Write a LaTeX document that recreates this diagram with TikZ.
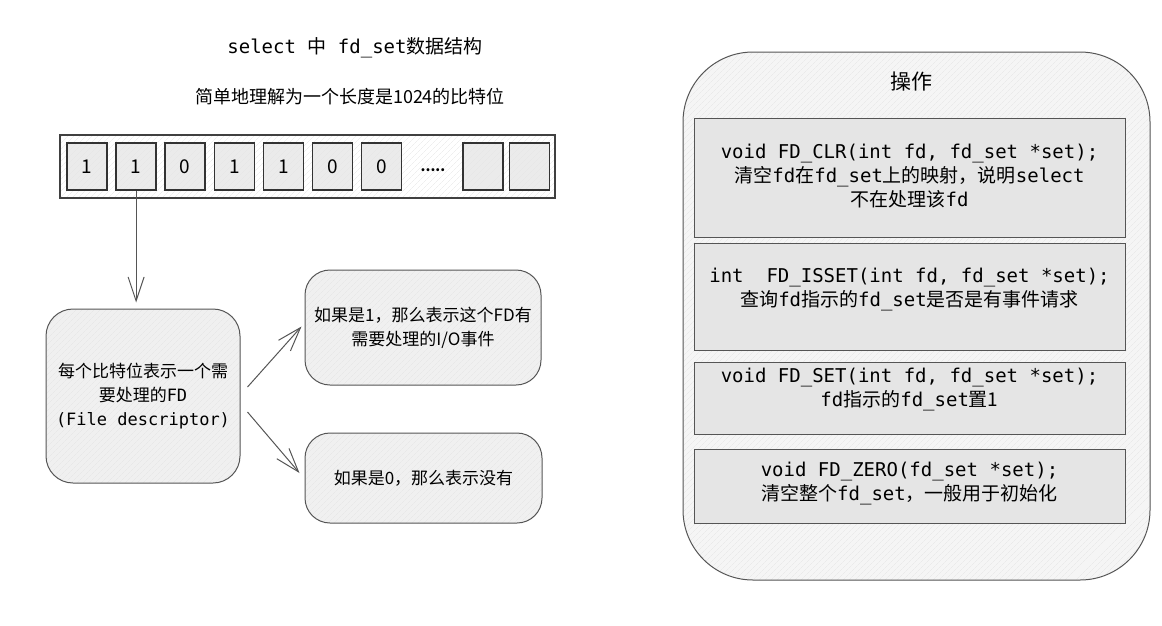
\documentclass[tikz,border=0pt]{standalone}
\usepackage{fontspec}
\setmainfont{Noto Sans CJK SC}
\setmonofont{DejaVu Sans Mono}
\usetikzlibrary{positioning, arrows.meta, patterns.meta}
\definecolor{linegray}{HTML}{555555}
\newcommand{\mono}[1]{{\ttfamily #1}}
\tikzstyle{hatch} = [pattern={Lines[angle=45,distance=4pt,line width=0.4pt]}, pattern color=black!10]
\tikzstyle{cell} = [draw=black!80, line width=1.6pt, preaction={fill=black!8}, hatch,
    minimum width=40pt, minimum height=47pt, inner sep=0pt,
    font=\fontsize{19}{20}\selectfont]
\tikzstyle{roundbox} = [draw=linegray, line width=1pt, preaction={fill=black!6}, hatch,
    rounded corners=25pt, align=center, font=\fontsize{17}{24}\selectfont]
\tikzstyle{opbox} = [draw=linegray, line width=1pt, preaction={fill=black!10}, hatch,
    minimum width=431pt, inner sep=0pt]
\tikzstyle{optext} = [align=center, font=\fontsize{19}{24}\selectfont]
\tikzstyle{arr} = [draw=linegray, line width=1pt, -{Straight Barb[length=24pt,width=16pt]}]

\begin{document}
\begin{tikzpicture}[x=1pt, y=-1pt, node distance=7.5pt]
        \useasboundingbox (0,0) rectangle (1162,625);

        % left half: the bit array
        \node[font=\fontsize{19}{24}\selectfont] (title) at (355,48)
            {\mono{select }中\mono{ fd\_set}数据结构};
        \node[font=\fontsize{18}{24}\selectfont] (sub) at (350,97)
            {简单地理解为一个长度是1024的比特位};

        \node[draw=black!75, line width=1.8pt, preaction={fill=white}, hatch,
            minimum width=495pt, minimum height=63pt](bits) at (307.5,166.5){};

        \node[cell](c1) at (87,166.5){1};
        \node[cell, right=of c1](c2){1};
        \node[cell, right=of c2](c3){0};
        \node[cell, right=of c3](c4){1};
        \node[cell, right=of c4](c5){1};
        \node[cell, right=of c5](c6){0};
        \node[cell, right=of c6](c7){0};
        \node[font=\bfseries\fontsize{14}{16}\selectfont](dots) at (433,170){.....};
        \node[cell](c8) at (483,166.5){};
        \node[cell, right=5pt of c8](c9){};

        \node[roundbox, minimum width=194pt, minimum height=174pt,
            rounded corners=27pt](desc) at (143,396)
            {每个比特位表示一个需\\要处理的\mono{FD}\\\mono{(File descriptor)}};
        \node[roundbox, minimum width=236pt, minimum height=115pt](yes) at (423,327.5)
            {如果是1，那么表示这个FD有\\需要处理的I/O事件};
        \node[roundbox, minimum width=237pt, minimum height=90pt](no) at (423.5,478)
            {如果是0，那么表示没有};

        \draw[arr, shorten >=6pt] (c2.south) -- (c2.south |- desc.north);
        \draw[arr] ([shift={(7,-9)}]desc.east) -- ([shift={(-3,-1)}]yes.west);
        \draw[arr] ([shift={(7,16)}]desc.east) -- ([shift={(-5,-5)}]no.west);

        % right half: the operations
        \node[draw=linegray, line width=1pt, preaction={fill=black!4}, hatch, rounded corners=70pt,
            minimum width=467pt, minimum height=528pt](ops) at (916.5,316){};
        \node[font=\fontsize{21}{24}\selectfont](opstitle) at (911,82){操作};

        \node[opbox, minimum height=119pt, label={[optext, yshift=1pt]center:{%
            \mono{void FD\_CLR(int fd, fd\_set *set);}\\
            清空\mono{fd}在\mono{fd\_set}上的映射，说明\mono{select}\\
            不在处理该\mono{fd}}}](op1) at (909.5,177.5){};
        \node[opbox, minimum height=107pt, label={[optext, yshift=6.5pt]center:{%
            \mono{int\ \ FD\_ISSET(int fd, fd\_set *set);}\\
            查询\mono{fd}指示的\mono{fd\_set}是否是有事件请求}}](op2) at (909.5,296.5){};
        \node[opbox, minimum height=72pt, label={[optext, yshift=8pt]center:{%
            \mono{void FD\_SET(int fd, fd\_set *set);}\\
            \mono{fd}指示的\mono{fd\_set}置1}}](op3) at (909.5,398){};
        \node[opbox, minimum height=74pt, label={[optext, yshift=2pt]center:{%
            \mono{void FD\_ZERO(fd\_set *set);}\\
            清空整个\mono{fd\_set}，一般用于初始化}}](op4) at (909.5,486){};
    \end{tikzpicture}
\end{document}
